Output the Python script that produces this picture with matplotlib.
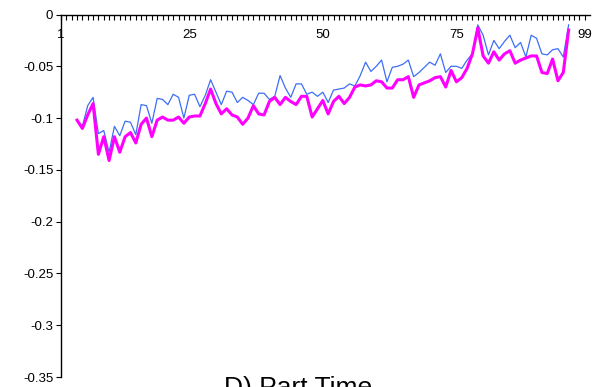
import matplotlib.pyplot as plt
from matplotlib.ticker import FixedLocator, FixedFormatter

plt.rcParams['font.family'] = ['Liberation Sans', 'DejaVu Sans']

# observation index (1..99 on the axis, data from 4 to 96)
first_obs = 4

blue_vals = [
    -0.102, -0.108, -0.088, -0.080, -0.115, -0.112, -0.133, -0.108, -0.117, -0.103,
    -0.104, -0.116, -0.087, -0.088, -0.105, -0.081, -0.082, -0.087, -0.077, -0.080,
    -0.100, -0.078, -0.077, -0.089, -0.078, -0.063, -0.075, -0.087, -0.074, -0.075,
    -0.085, -0.080, -0.083, -0.087, -0.076, -0.076, -0.082, -0.079, -0.059, -0.071,
    -0.080, -0.067, -0.067, -0.077, -0.075, -0.079, -0.075, -0.085, -0.073, -0.072,
    -0.071, -0.067, -0.069, -0.059, -0.046, -0.055, -0.050, -0.044, -0.065, -0.051,
    -0.050, -0.048, -0.044, -0.060, -0.056, -0.051, -0.046, -0.049, -0.038, -0.056,
    -0.050, -0.050, -0.052, -0.044, -0.038, -0.010, -0.020, -0.039, -0.025, -0.033,
    -0.026, -0.020, -0.032, -0.027, -0.041, -0.020, -0.023, -0.038, -0.039, -0.034,
    -0.033, -0.041, -0.010,
]

magenta_vals = [
    -0.102, -0.110, -0.097, -0.086, -0.135, -0.118, -0.141, -0.118, -0.133, -0.118,
    -0.114, -0.124, -0.106, -0.100, -0.118, -0.102, -0.099, -0.102, -0.102, -0.099,
    -0.105, -0.099, -0.098, -0.098, -0.086, -0.072, -0.086, -0.096, -0.091, -0.097,
    -0.099, -0.106, -0.100, -0.088, -0.096, -0.097, -0.084, -0.080, -0.087, -0.080,
    -0.084, -0.087, -0.079, -0.079, -0.099, -0.091, -0.083, -0.096, -0.084, -0.079,
    -0.086, -0.080, -0.070, -0.068, -0.069, -0.068, -0.064, -0.065, -0.071, -0.071,
    -0.063, -0.063, -0.060, -0.080, -0.068, -0.066, -0.064, -0.061, -0.060, -0.070,
    -0.054, -0.065, -0.061, -0.052, -0.038, -0.013, -0.040, -0.047, -0.036, -0.044,
    -0.038, -0.035, -0.047, -0.044, -0.042, -0.040, -0.040, -0.056, -0.057, -0.043,
    -0.064, -0.056, -0.015,
]

x_ticks = [1, 25, 50, 75, 99]
y_ticks = [0, -0.05, -0.1, -0.15, -0.2, -0.25, -0.3, -0.35]
y_labels = ['0', '-0.05', '-0.1', '-0.15', '-0.2', '-0.25', '-0.3', '-0.35']
title = "D) Part Time"

x = list(range(first_obs, first_obs + len(blue_vals)))

fig = plt.figure(figsize=(5.93, 3.87), dpi=100)
ax = fig.add_axes([61 / 593, 1 - 377 / 387, 529 / 593, 362.5 / 387])

ax.plot(x, blue_vals, color='#3d6ef5', linewidth=0.9)
ax.plot(x, magenta_vals, color='#ff00ff', linewidth=2.2)

ax.set_xlim(1, 100)
ax.set_ylim(-0.35, 0)

for side in ['right', 'bottom']:
    ax.spines[side].set_visible(False)
for side in ['left', 'top']:
    ax.spines[side].set_color('black')
    ax.spines[side].set_linewidth(1.0)

# category axis on top (y = 0), ticks and labels hanging below
ax.xaxis.set_major_locator(FixedLocator(x_ticks))
ax.xaxis.set_minor_locator(FixedLocator(range(1, 100)))
ax.xaxis.set_major_formatter(FixedFormatter([str(t) for t in x_ticks]))
ax.tick_params(axis='x', which='both', top=True, bottom=False,
               labeltop=True, labelbottom=False, direction='in',
               length=3.5, width=0.8, color='black')
ax.tick_params(axis='x', which='major', pad=-19, labelsize=9.5)

ax.yaxis.set_major_locator(FixedLocator(y_ticks))
ax.yaxis.set_major_formatter(FixedFormatter(y_labels))
ax.tick_params(axis='y', direction='out', length=3.5, width=0.8,
               labelsize=9.5, pad=2)

# title sits below the plot and is clipped by the figure edge, as in the source
fig.text(0.503, 1 - 376.5 / 387, title, ha='center', va='top', fontsize=19)

fig.savefig('out.png', dpi=100)
